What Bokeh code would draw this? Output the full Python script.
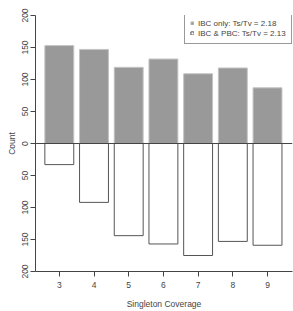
from bokeh.plotting import figure
from bokeh.models import ColumnDataSource, FixedTicker, Range1d, Span, Legend, LegendItem
from bokeh.embed import file_html
from bokeh.resources import INLINE

coverage = [3, 4, 5, 6, 7, 8, 9]
ibc_only = [153, 147, 119, 132, 109, 118, 87]
ibc_pbc = [33, 92, 144, 157, 175, 153, 159]
y_ticks = [-200, -150, -100, -50, 0, 50, 100, 150, 200]
label_ibc = "IBC only: Ts/Tv = 2.18"
label_both = "IBC & PBC: Ts/Tv = 2.13"

src = ColumnDataSource(dict(x=coverage, up=ibc_only, down=[-v for v in ibc_pbc]))

FONT = "Liberation Sans"
TXT = "#444444"

p = figure(width=293, height=311, output_backend="svg", toolbar_location=None,
           x_range=Range1d(2.314, 9.72), y_range=Range1d(-200, 200),
           min_border_left=35, min_border_right=1, min_border_top=15, min_border_bottom=39)
p.outline_line_color = None
p.xgrid.visible = False
p.ygrid.visible = False
p.background_fill_color = "white"
p.border_fill_color = "white"

r1 = p.vbar(x="x", top="up", bottom=0, width=0.833, source=src,
            fill_color="#999999", line_color="#c4c4c4", line_width=1)
r2 = p.vbar(x="x", top=0, bottom="down", width=0.833, source=src,
            fill_color="white", line_color="#555555", line_width=1)

p.add_layout(Span(location=0, dimension="width", line_color="#444444", line_width=1))

for ax in (p.xaxis[0], p.yaxis[0]):
    ax.axis_line_color = TXT
    ax.major_tick_line_color = TXT
    ax.minor_tick_line_color = None
    ax.major_tick_in = 0
    ax.major_tick_out = 5
    ax.major_label_text_font = FONT
    ax.major_label_text_font_size = "8.5px"
    ax.major_label_text_color = TXT
    ax.axis_label_text_font = FONT
    ax.axis_label_text_font_size = "8.5px"
    ax.axis_label_text_font_style = "normal"
    ax.axis_label_text_color = TXT

p.xaxis.ticker = FixedTicker(ticks=coverage)
p.xaxis.axis_label = "Singleton Coverage"
p.xaxis.major_label_standoff = 5
p.xaxis.axis_label_standoff = 8

p.yaxis.ticker = FixedTicker(ticks=y_ticks)
p.yaxis.major_label_overrides = {t: str(abs(t)) for t in y_ticks}
p.yaxis.major_label_orientation = "vertical"
p.yaxis.axis_label = "Count"
p.yaxis.major_label_standoff = 3
p.yaxis.axis_label_standoff = 2

legend = Legend(items=[LegendItem(label=label_ibc, renderers=[r1]),
                       LegendItem(label=label_both, renderers=[r2])],
                location=(149, 227), orientation="vertical",
                glyph_width=4, glyph_height=4, label_height=10, label_standoff=4,
                padding=5, spacing=0, margin=0,
                label_text_font=FONT, label_text_font_size="8px", label_text_color=TXT,
                border_line_color="#333333", border_line_width=1,
                background_fill_color="white", background_fill_alpha=1.0)
p.add_layout(legend, "center")

open("out.html", "w").write(file_html(p, INLINE))
